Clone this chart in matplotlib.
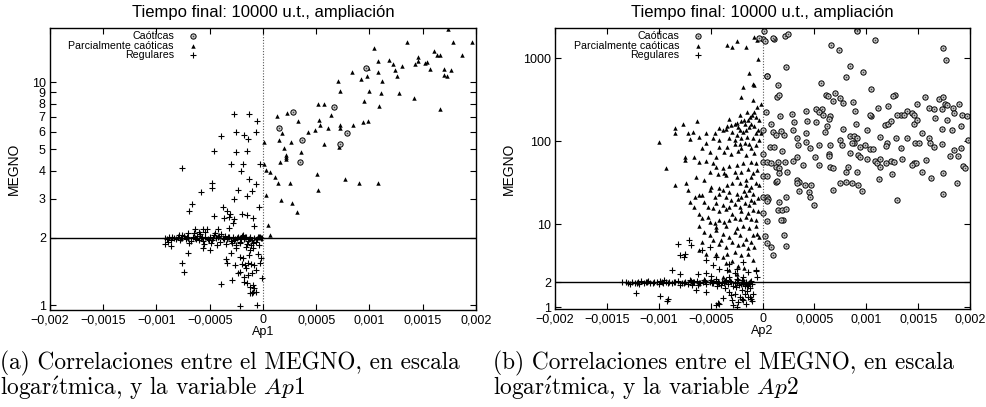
import numpy as np
import matplotlib
matplotlib.use("Agg")
import matplotlib.pyplot as plt
from matplotlib.ticker import NullLocator

plt.rcParams['font.family'] = ['Liberation Sans', 'DejaVu Sans']
plt.rcParams['mathtext.fontset'] = 'cm'

# Ap values are stored in units of 1e-4, MEGNO as read
AP_UNIT = 1e-4

# ---- panel (a): Ap1 ----
ap1_caoticas = np.array([
    (9.7, 11.6), (6.7, 7.7), (2.8, 7.33), (1.5, 6.2), (7.9, 5.93),
    (3.7, 5.5), (7.2, 5.3), (3.5, 4.39),
])

ap1_parciales = np.array([
    (13.5, 15.1), (10.4, 14.3), (17.8, 15.1), (19.6, 15.1), (16.1, 13.8),
    (16.3, 13.3), (16.6, 13.3), (18.7, 13.3), (14.6, 13.0), (14.6, 12.5),
    (15.4, 12.3), (15.2, 12.2), (10.8, 12.5), (11.8, 12.6), (12.2, 12.1),
    (13.1, 11.8), (14.3, 12.1), (9.9, 11.6), (17.0, 11.5), (17.7, 11.3),
    (15.7, 11.4), (8.4, 11.1), (10.8, 11.1), (12.4, 11.3), (9.8, 10.6),
    (9.2, 10.3), (11.2, 10.1), (12.6, 10.6), (17.0, 10.8), (17.3, 10.6),
    (7.0, 10.1), (7.2, 9.1), (10.0, 9.1), (11.1, 8.9), (12.8, 8.9),
    (14.2, 8.5), (9.5, 8.2), (16.6, 7.6), (10.9, 7.8), (5.2, 8.0),
    (5.7, 8.0), (6.4, 7.1), (2.3, 7.3), (1.3, 7.05), (3.3, 6.7),
    (5.3, 6.75), (9.4, 6.6), (9.9, 6.7), (8.5, 6.45), (7.2, 6.4),
    (7.2, 6.2), (5.4, 6.4), (6.1, 6.2), (4.9, 6.1), (4.2, 5.97),
    (1.8, 5.9), (0.1, 5.4), (1.5, 5.5), (2.6, 5.4), (5.7, 5.28),
    (7.1, 5.1), (2.0, 5.07), (3.6, 4.85), (2.2, 4.72), (2.2, 4.63),
    (2.2, 4.54), (1.6, 4.39), (0.1, 4.3), (0.3, 4.04), (0.7, 3.97),
    (5.1, 3.88), (1.1, 3.74), (7.7, 3.68), (2.5, 3.54), (1.4, 3.52),
    (9.0, 3.52), (10.8, 3.53), (5.2, 3.28), (0.3, 3.12), (1.7, 2.96),
    (2.7, 2.88), (3.2, 2.62), (0.5, 2.29), (0.7, 2.06), (17.4, 17.4),
])

ap1_regulares = np.array([
    # scattered above the MEGNO = 2 line
    (-2.7, 7.2), (-1.3, 7.2), (-0.6, 6.7), (-3.9, 5.75), (-2.5, 5.95),
    (-1.8, 5.8), (-1.4, 5.55), (-0.7, 6.0), (-4.6, 4.93), (-2.5, 4.85),
    (-1.5, 4.93), (-7.6, 4.1), (-3.0, 4.28), (-1.9, 4.28), (-2.1, 4.01),
    (-0.3, 4.28), (-1.3, 3.67), (-0.7, 3.48), (-4.8, 3.52), (-4.8, 3.36),
    (-5.8, 3.23), (-2.3, 3.29), (-1.0, 3.26), (-1.5, 3.09), (-2.7, 2.98),
    (-6.7, 2.84), (-6.9, 2.63), (-0.4, 2.76), (-3.8, 2.76), (-3.4, 2.64),
    (-3.1, 2.55), (-4.6, 2.51), (-3.7, 2.47), (-3.2, 2.49), (-2.0, 2.56),
    (-1.5, 2.53), (-0.9, 2.46), (-2.7, 2.43), (-2.8, 2.33), (-0.8, 2.26),
    (-3.2, 2.21), (-4.2, 2.2), (-5.6, 2.2), (-5.3, 2.2), (-5.4, 2.13),
    (-6.4, 2.19), (-6.0, 2.13), (-7.6, 2.06), (-7.0, 2.1),
    # band around MEGNO = 2
    (-9.2, 2.0), (-9.0, 1.97), (-8.8, 2.02), (-8.6, 1.95), (-8.4, 2.0),
    (-8.2, 1.98), (-8.0, 2.03), (-7.8, 1.96), (-7.6, 2.0), (-7.4, 2.04),
    (-7.2, 1.97), (-7.0, 2.0), (-6.8, 1.94), (-6.6, 2.02), (-6.4, 1.99),
    (-6.2, 2.05), (-6.0, 1.96), (-5.8, 2.0), (-5.6, 1.93), (-5.4, 2.03),
    (-5.2, 1.98), (-5.0, 2.01), (-4.8, 1.95), (-4.6, 2.06), (-4.4, 1.99),
    (-4.2, 2.02), (-4.0, 1.92), (-3.8, 2.0), (-3.6, 2.04), (-3.4, 1.97),
    (-3.2, 2.01), (-3.0, 1.94), (-2.8, 2.03), (-2.6, 1.98), (-2.4, 2.0),
    (-2.2, 1.91), (-2.0, 2.05), (-1.8, 1.97), (-1.6, 2.01), (-1.4, 1.93),
    (-1.2, 2.02), (-1.0, 1.96), (-0.8, 2.0), (-0.6, 1.98), (-0.4, 2.01),
    (-0.2, 1.99), (-8.9, 1.92), (-7.9, 2.07), (-6.9, 1.9), (-5.9, 2.08),
    (-4.9, 1.9), (-3.9, 2.08), (-2.9, 1.89), (-1.9, 2.07), (-0.9, 1.9),
    (-5.5, 1.88), (-3.5, 1.87), (-2.5, 1.86), (-1.5, 1.88), (-6.5, 2.1),
    (-4.5, 2.1), (-1.1, 1.86), (-0.7, 1.92), (-0.3, 2.03),
    (-8.5, 2.01), (-7.7, 1.99), (-7.1, 2.02), (-6.3, 1.97), (-5.7, 2.03),
    (-5.1, 1.96), (-4.7, 2.0), (-4.1, 2.04), (-3.7, 1.98), (-3.3, 2.03),
    (-2.7, 1.96), (-2.3, 2.02), (-2.1, 1.98), (-1.7, 2.03), (-1.3, 1.97),
    (-0.5, 2.02), (-0.1, 2.0),
    # tail below the band
    (-9.2, 1.88), (-8.6, 1.84), (-7.6, 1.55), (-7.4, 1.41), (-7.0, 1.72),
    (-5.6, 1.8), (-5.0, 1.77), (-3.9, 1.24), (-3.4, 1.54), (-3.5, 1.61),
    (-2.9, 1.30), (-2.6, 1.51), (-2.3, 1.39), (-2.2, 0.99), (-0.6, 1.0),
    (-0.1, 1.32), (-1.2, 1.13), (-0.9, 1.15), (-0.8, 1.19), (-1.5, 1.25),
    (-1.8, 1.27), (-1.4, 1.36), (-2.0, 1.53), (-1.7, 1.52), (-1.4, 1.54),
    (-1.1, 1.53), (-0.8, 1.52), (-0.3, 1.55), (-2.2, 1.65), (-1.9, 1.62),
    (-1.3, 1.68), (-1.6, 1.83), (-1.2, 1.77), (-0.9, 1.8), (-2.2, 1.89),
    (-1.0, 1.39), (-0.7, 1.44), (-1.6, 1.46), (-0.9, 1.23), (-1.2, 1.21),
    (-1.0, 1.13), (-0.7, 1.15), (-1.8, 1.34), (-2.2, 1.41), (-0.5, 1.7),
    (-0.4, 1.85), (-0.2, 1.62), (-3.0, 1.72), (-2.5, 1.8), (-4.3, 1.85),
])

# ---- panel (b): Ap2 ----
ap2_caoticas = np.array([
    (0.1, 2150), (0.0, 1700), (0.2, 1600), (1.1, 1700), (2.2, 1860),
    (2.5, 1930), (9.1, 2200), (9.1, 2100), (10.8, 1650), (6.6, 1460),
    (7.4, 1270), (17.4, 1330), (17.7, 946), (8.4, 800), (9.7, 686),
    (2.3, 773), (0.4, 607), (8.0, 596), (1.5, 473), (5.6, 509),
    (10.5, 431), (1.4, 342), (1.6, 358), (6.1, 365), (6.3, 348),
    (7.0, 382), (7.5, 333), (7.8, 292), (6.8, 303), (8.7, 298),
    (12.8, 365), (12.6, 348), (15.7, 342), (17.0, 321), (17.4, 342),
    (17.6, 279), (17.8, 272), (18.9, 284), (14.9, 277), (0.3, 225),
    (1.7, 202), (2.8, 211), (4.2, 230), (5.2, 247), (5.7, 247),
    (5.4, 225), (5.8, 206), (6.5, 202), (6.4, 187), (8.9, 230),
    (11.1, 252), (12.1, 266), (13.3, 209), (13.9, 230), (14.4, 221),
    (14.6, 206), (16.0, 254), (16.5, 247), (17.3, 247), (18.4, 250),
    (18.5, 221), (19.2, 206), (19.7, 202), (3.0, 168), (4.3, 174),
    (5.2, 168), (6.2, 153), (6.0, 129), (7.8, 139), (9.0, 163),
    (10.1, 135), (10.5, 202), (10.4, 206), (11.8, 156), (12.1, 163),
    (12.4, 176), (13.0, 206), (13.6, 209), (14.6, 159), (14.9, 179),
    (15.4, 124), (16.6, 191), (17.3, 142), (17.8, 179), (18.3, 135),
    (19.1, 153), (19.8, 103), (0.0, 135), (0.8, 163), (1.0, 129),
    (1.3, 118), (2.1, 120), (1.8, 132), (2.9, 135), (0.7, 85),
    (1.1, 85), (1.9, 77), (3.3, 108), (4.2, 127), (4.2, 98),
    (3.4, 90), (4.6, 83), (5.4, 91), (6.5, 90), (7.5, 103),
    (7.7, 91), (8.4, 115), (8.8, 115), (9.1, 108), (8.8, 96),
    (8.6, 94), (9.4, 85), (9.9, 91), (10.4, 80), (10.6, 81),
    (11.3, 113), (12.0, 94), (11.9, 88), (12.9, 108), (13.3, 83),
    (13.9, 108), (14.7, 94), (15.1, 96), (16.0, 108), (16.1, 96),
    (16.5, 84), (17.3, 92), (18.5, 79), (19.1, 82), (18.1, 67),
    (18.8, 66), (19.3, 50), (19.5, 47), (0.0, 56), (0.0, 71),
    (0.4, 56), (0.8, 55), (1.5, 56), (1.3, 49), (1.6, 47),
    (2.4, 42), (2.2, 56), (2.9, 57), (3.3, 65), (3.9, 51),
    (5.1, 64), (5.4, 51), (6.4, 71), (6.4, 67), (6.5, 49),
    (6.8, 47), (8.0, 43), (8.2, 49), (8.4, 73), (9.2, 68),
    (9.4, 65), (9.1, 42), (10.1, 61), (10.8, 57), (11.0, 54),
    (11.3, 61), (11.3, 49), (11.9, 55), (12.4, 57), (12.7, 56),
    (12.5, 40), (13.4, 61), (14.6, 54), (14.8, 55), (14.4, 51),
    (15.4, 42), (15.8, 60), (16.2, 36), (17.4, 41), (18.7, 31),
    (0.0, 38), (0.4, 38), (1.3, 32), (1.4, 33), (1.6, 41),
    (3.3, 34), (3.5, 32), (4.1, 30), (4.7, 30), (4.5, 24.5),
    (4.6, 21.3), (5.0, 17), (3.5, 25), (3.3, 31), (6.8, 25.7),
    (7.5, 31), (8.0, 32), (8.6, 31), (9.2, 30), (9.6, 25),
    (11.2, 35), (13.0, 19.5), (17.4, 22.8), (0.0, 21), (0.4, 21),
    (0.5, 20), (0.4, 19), (1.5, 14.7), (1.9, 15), (2.3, 15.4),
    (1.6, 18.4), (2.3, 21), (2.0, 11.3), (1.8, 11.2), (0.4, 10.9),
    (0.0, 13.6), (2.1, 7.5), (0.2, 7.3), (0.4, 6.0), (0.8, 5.3),
    (2.3, 5.4), (1.0, 4.2), (-0.3, 1740), (1.0, 1740), (0.4, 612),
])

ap2_parciales = np.array([
    (-3.4, 1435), (-2.9, 1371), (-2.5, 1620), (-1.6, 1360), (-0.8, 1806),
    (-0.55, 1650), (-0.4, 990), (-1.3, 665), (-1.9, 444), (-0.9, 486),
    (-0.8, 473), (-2.1, 336), (-0.1, 279), (-6.3, 176), (-8.4, 146),
    (-8.4, 124), (-7.2, 124), (-7.0, 106), (-10.0, 98), (-5.4, 124),
    (-4.6, 126), (-4.2, 146), (-3.8, 138), (-3.5, 142), (-3.4, 152),
    (-3.0, 156), (-2.7, 163), (-2.5, 166), (-2.1, 173), (-1.8, 179),
    (-1.7, 160), (-1.4, 179), (-1.2, 193), (-1.0, 206), (-0.8, 225),
    (-0.6, 196), (-2.4, 149), (-2.9, 129), (-2.2, 136), (-1.9, 129),
    (-1.3, 149), (-0.8, 152), (-0.4, 136), (-0.1, 124), (-0.6, 124),
    (-0.9, 108), (-1.5, 113), (-2.1, 108), (-2.5, 118), (-3.2, 108),
    (-4.2, 103), (-4.8, 108), (-5.4, 94), (-4.2, 84), (-3.4, 85),
    (-2.7, 92), (-2.2, 92), (-1.7, 95), (-1.3, 92), (-0.6, 90),
    (-0.3, 103), (-7.5, 65), (-7.5, 59), (-6.6, 65), (-6.1, 56),
    (-5.4, 58), (-4.8, 54), (-4.5, 49), (-3.8, 47), (-3.2, 50),
    (-2.5, 51), (-1.9, 54), (-1.1, 56), (-0.6, 54), (-9.3, 47),
    (-5.1, 43), (-4.3, 40), (-3.7, 41), (-2.7, 42), (-2.1, 43),
    (-1.4, 46), (-0.9, 41), (-0.5, 45), (-8.4, 30), (-7.4, 31),
    (-7.2, 25.7), (-6.5, 21.3), (-6.1, 22.3), (-5.8, 22.3), (-5.1, 25.7),
    (-5.0, 28), (-4.2, 27), (-3.4, 29.5), (-2.9, 31), (-2.2, 31.5),
    (-1.6, 30), (-1.1, 28), (-0.6, 31), (-0.3, 29.5), (-4.2, 23.4),
    (-3.5, 21.3), (-3.0, 19.5), (-2.5, 23.4), (-2.1, 21.3), (-1.6, 22.3),
    (-0.9, 23.4), (-0.4, 20.4), (-4.5, 18), (-3.8, 17), (-3.2, 16.2),
    (-2.7, 17.7), (-2.2, 16.2), (-1.7, 18), (-1.3, 17), (-0.8, 18.6),
    (-6.1, 13.4), (-5.8, 11.7), (-5.3, 12.2), (-5.1, 10.7), (-4.6, 10.2),
    (-4.2, 11.2), (-3.7, 10.7), (-3.2, 11.2), (-2.7, 11.7), (-2.2, 11.4),
    (-1.6, 12.2), (-1.1, 11.4), (-0.6, 11.2), (-5.6, 8.1), (-5.1, 7.4),
    (-4.5, 8.5), (-3.8, 7.7), (-3.2, 7.0), (-2.7, 8.1), (-2.2, 7.4),
    (-1.6, 6.7), (-0.9, 7.4), (-0.5, 7.7), (-5.8, 6.1), (-4.8, 6.4),
    (-4.2, 5.7), (-3.5, 5.3), (-2.9, 6.1), (-2.4, 5.6), (-1.9, 5.8),
    (-1.1, 6.1), (-0.8, 5.3), (-0.3, 7.0), (-6.1, 4.9), (-5.4, 4.4),
    (-4.5, 4.4), (-3.8, 4.0), (-3.4, 4.4), (-2.7, 4.6), (-2.1, 4.2),
    (-1.4, 4.4), (-0.9, 3.7), (-3.5, 3.4), (-2.9, 3.55), (-2.4, 3.1),
    (-3.2, 2.8), (-2.5, 2.5), (-3.8, 2.3), (-1.8, 2.95),
    (-3.7, 74), (-3.0, 71), (-2.4, 76), (-1.6, 68), (-0.8, 72),
    (-4.5, 65), (-3.5, 39), (-2.5, 36.5), (-1.1, 37), (-1.6, 34.5),
    (-5.6, 34.5), (-6.4, 37), (-3.8, 25.7), (-3.2, 24.5), (-1.8, 25),
    (-1.3, 25.7), (-4.6, 21.3), (-2.4, 20), (-1.1, 19.5), (-4.8, 15.6),
    (-4.2, 14.3), (-3.5, 15.3), (-2.9, 13.4), (-2.1, 14.6), (-1.4, 13.8),
    (-0.9, 14.9), (-0.4, 14.3), (-4.5, 9.3), (-3.5, 9.5), (-2.5, 9.1),
    (-1.9, 9.5), (-1.3, 8.9), (-0.6, 9.4), (-4.0, 6.4), (-1.4, 5.1),
    (-6.1, 9.5), (-6.6, 16.2), (-7.0, 18.3), (-5.3, 16.2), (-5.6, 18.3),
    (-3.2, 186), (-2.2, 206), (-1.1, 163), (-0.3, 179), (-1.5, 225),
    (-0.5, 259), (-0.9, 312), (-1.6, 136), (-2.7, 103), (-2.1, 82),
    (-1.1, 82), (-5.1, 74), (-5.8, 82), (-6.1, 113), (-6.7, 129),
    (-7.7, 163),
])

ap2_regulares = np.array([
    # above the band
    (-8.1, 5.7), (-7.1, 6.5), (-6.9, 5.6), (-8.0, 4.2), (-7.5, 4.4),
    (-7.6, 4.0), (-8.7, 2.8), (-8.0, 2.5), (-5.8, 4.9), (-5.4, 3.7),
    (-4.8, 3.2), (-6.2, 2.5), (-5.4, 2.55), (-5.0, 2.4), (-4.2, 2.9),
    (-3.4, 2.8), (-2.7, 2.6), (-1.4, 2.65), (-0.6, 2.8), (-0.5, 2.3),
    (-4.5, 2.2), (-3.2, 2.3), (-2.5, 2.2), (-1.9, 2.3), (-5.1, 5.3),
    (-4.5, 4.0), (-3.2, 3.35), (-2.5, 2.9), (-1.9, 3.5), (-0.6, 2.75),
    # band around MEGNO = 2
    (-13.5, 2.0), (-13.0, 1.98), (-12.6, 2.02), (-12.3, 1.95), (-12.0, 2.0),
    (-11.7, 2.04), (-11.4, 1.97), (-11.1, 2.01), (-10.8, 1.93), (-10.5, 2.03),
    (-10.2, 1.99), (-9.9, 2.05), (-9.6, 1.96), (-9.3, 2.0), (-9.0, 2.02),
    (-8.7, 1.94), (-8.4, 2.01), (-8.1, 2.06), (-7.8, 1.97), (-7.5, 2.0),
    (-7.2, 1.92), (-6.9, 2.04), (-6.6, 1.99), (-6.3, 2.07), (-6.0, 1.95),
    (-5.7, 2.01), (-5.4, 1.9), (-5.1, 2.03), (-4.8, 1.98), (-4.5, 2.08),
    (-4.2, 1.93), (-3.9, 2.0), (-3.6, 2.05), (-3.3, 1.88), (-3.0, 2.02),
    (-2.7, 1.95), (-2.4, 2.1), (-2.1, 1.9), (-1.8, 2.03), (-1.5, 1.85),
    (-1.2, 2.0), (-1.0, 1.92), (-11.9, 1.9), (-10.0, 1.88), (-8.0, 1.86),
    (-6.2, 1.84), (-4.4, 1.82), (-2.8, 1.8), (-1.7, 1.78), (-9.5, 2.1),
    (-7.0, 2.12), (-5.0, 2.14), (-3.5, 2.15), (-2.0, 2.12), (-12.8, 1.91),
    (-11.0, 2.09), (-4.0, 1.86), (-2.3, 1.83), (-1.4, 1.8), (-6.8, 1.87),
    (-5.6, 2.1),
    (-13.2, 2.01), (-12.1, 1.97), (-11.2, 2.03), (-10.6, 1.98), (-9.7, 2.02),
    (-9.1, 1.97), (-8.5, 2.03), (-7.6, 1.98), (-6.7, 2.02), (-6.1, 1.98),
    (-5.5, 2.04), (-4.9, 1.97), (-4.3, 2.02), (-3.7, 1.96), (-3.1, 2.04),
    (-2.5, 1.98), (-1.9, 1.96), (-1.6, 2.02), (-1.3, 1.94), (-1.1, 2.04),
    # below the band
    (-12.2, 1.49), (-9.9, 1.36), (-9.1, 1.24), (-6.4, 1.63), (-5.4, 1.53),
    (-9.2, 1.18), (-3.2, 1.53), (-2.7, 1.46), (-2.2, 1.33), (-1.7, 1.46),
    (-1.4, 1.33), (-1.9, 1.21), (-2.4, 1.16), (-2.9, 1.23), (-1.1, 1.27),
    (-4.2, 1.1), (-4.5, 1.06), (-2.5, 1.01), (-1.6, 1.1), (-4.3, 1.13),
    (-0.9, 1.46), (-1.25, 1.33), (-3.6, 1.7), (-2.0, 1.6), (-3.0, 1.4),
    (-1.5, 1.55), (-2.6, 1.75), (-1.2, 1.7), (-3.8, 1.3), (-2.0, 1.25),
    (-1.0, 1.2), (-2.8, 1.05),
])

xticks = [-0.002, -0.0015, -0.001, -0.0005, 0, 0.0005, 0.001, 0.0015, 0.002]
xticklabels = ['\u22120,002', '\u22120,0015', '\u22120,001', '\u22120,0005', '0',
               '0,0005', '0,001', '0,0015', '0,002']

ap1_yticks = [1, 2, 3, 4, 5, 6, 7, 8, 9, 10]
ap2_yticks = [1, 2, 10, 100, 1000]

titulo = 'Tiempo final: 10000 u.t., ampliación'
leyenda = ['Caóticas', 'Parcialmente caóticas', 'Regulares']

circ_style = dict(ls='none', marker='o', ms=3.8, mfc='0.78', mec='black', mew=0.7)
dot_style = dict(ls='none', marker='o', ms=1.1, color='0.25', mew=0)
tri_style = dict(ls='none', marker='^', ms=3.2, color='black', mew=0)
plus_style = dict(ls='none', marker='+', ms=4.5, color='black', mew=0.8)


def draw_panel(ax, caot, parc, reg, yticks, ylim, xlabel, ylabel_x, leg_x):
    ax.set_yscale('log')
    ax.axhline(2, color='black', lw=1.0, zorder=1)
    ax.axvline(0, color='0.35', ls=(0, (1, 1.5)), lw=0.8, zorder=1)

    ax.plot(reg[:, 0] * AP_UNIT, reg[:, 1], **plus_style)
    ax.plot(parc[:, 0] * AP_UNIT, parc[:, 1], **tri_style)
    ax.plot(caot[:, 0] * AP_UNIT, caot[:, 1], **circ_style)
    ax.plot(caot[:, 0] * AP_UNIT, caot[:, 1], **dot_style)

    ax.set_xlim(-0.002, 0.002)
    ax.set_ylim(*ylim)
    ax.set_xticks(xticks)
    ax.set_xticklabels(xticklabels)
    ax.set_yticks(yticks)
    ax.set_yticklabels([str(v) for v in yticks])
    ax.yaxis.set_minor_locator(NullLocator())
    ax.tick_params(direction='in', length=4, width=0.8, top=True, right=True,
                   labelsize=9, pad=3)
    for sp in ax.spines.values():
        sp.set_linewidth(1.0)

    ax.set_title(titulo, fontsize=12, pad=8)
    ax.set_xlabel(xlabel, fontsize=9)
    ax.xaxis.set_label_coords(0.5, -0.058)
    ax.set_ylabel('MEGNO', fontsize=10)
    ax.yaxis.set_label_coords(ylabel_x, 0.5)

    # gnuplot-style key: right-aligned text followed by the symbol
    rows = [0.972, 0.937, 0.904]
    for label, ry in zip(leyenda, rows):
        ax.text(leg_x, ry, label, transform=ax.transAxes, ha='right',
                va='center', fontsize=7.7)
    mx = leg_x + 0.045
    ax.plot([mx], [rows[0]], transform=ax.transAxes, clip_on=False, **circ_style)
    ax.plot([mx], [rows[0]], transform=ax.transAxes, clip_on=False, **dot_style)
    ax.plot([mx], [rows[1]], transform=ax.transAxes, clip_on=False, **tri_style)
    ax.plot([mx], [rows[2]], transform=ax.transAxes, clip_on=False, **plus_style)


fig = plt.figure(figsize=(9.86, 4.07), dpi=100)
ax1 = fig.add_axes([0.0507, 0.2383, 0.432, 0.693])
ax2 = fig.add_axes([0.5629, 0.2408, 0.4209, 0.690])

draw_panel(ax1, ap1_caoticas, ap1_parciales, ap1_regulares,
           ap1_yticks, (0.95, 17.5), 'Ap1', -0.068, 0.291)
draw_panel(ax2, ap2_caoticas, ap2_parciales, ap2_regulares,
           ap2_yticks, (0.95, 2300), 'Ap2', -0.094, 0.299)

cap_font = dict(family='cmr10', fontsize=16.8, va='baseline')
linea1 = ' Correlaciones entre el MEGNO, en escala'
linea2 = r'logar$\acute{\imath}$tmica, y la variable '
fig.text(0.0, 1 - 369 / 407, '(a)' + linea1, **cap_font)
fig.text(0.0, 1 - 394 / 407, linea2 + r'$Ap1$', **cap_font)
fig.text(493 / 986, 1 - 369 / 407, '(b)' + linea1, **cap_font)
fig.text(493 / 986, 1 - 394 / 407, linea2 + r'$Ap2$', **cap_font)

fig.savefig('out.png', dpi=100)
